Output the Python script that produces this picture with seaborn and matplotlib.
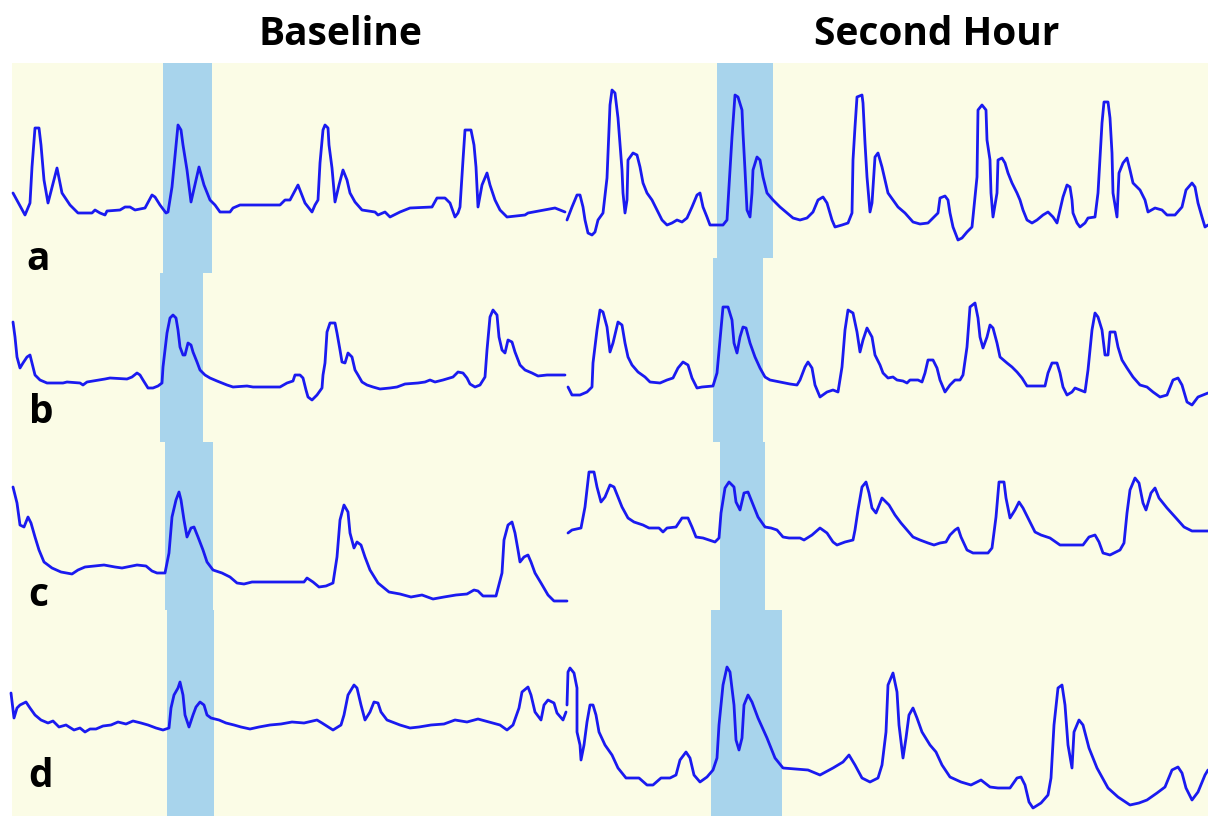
import pandas as pd
import matplotlib
matplotlib.use('Agg')
import matplotlib.pyplot as plt
from matplotlib.patches import Rectangle
import seaborn as sns

sns.set_style('white')
plt.rcParams['font.family'] = ['Open Sans', 'DejaVu Sans']

# pulse traces, (x, y) in picture pixels
a_base = [(13,193),(25,215),(30,203),(32,167),(35,128),(39,128),(41,145),(44,180),(48,203),(57,168),(62,193),(70,205),(78,213),(92,213),(95,210),(100,213),(105,215),(107,211),(120,210),(125,207),(130,207),(135,210),(145,208),(152,195),(155,197),(160,205),(166,213),(168,212),(172,187),(178,125),(181,130),(183,145),(187,170),(191,202),(199,167),(204,185),(210,200),(215,205),(220,212),(230,212),(233,208),(240,205),(280,205),(285,200),(290,200),(298,185),(305,203),(312,212),(315,205),(318,200),(320,163),(323,130),(325,125),(328,128),(329,145),(332,168),(335,202),(339,185),(343,170),(347,180),(350,193),(355,202),(362,210),(375,212),(378,215),(385,212),(390,217),(400,212),(410,208),(432,207),(437,198),(445,198),(450,203),(455,217),(458,213),(460,207),(463,160),(465,130),(471,130),(474,145),(476,167),(478,207),(482,185),(487,173),(490,185),(495,200),(500,210),(507,217),(525,215),(528,213),(555,208),(565,212)]

a_hour = [(567,220),(572,207),(577,195),(580,195),(583,207),(585,220),(588,233),(592,235),(595,232),(598,220),(603,213),(607,178),(610,105),(612,90),(615,93),(618,118),(622,170),(623,193),(625,213),(627,200),(628,160),(633,153),(637,155),(640,167),(643,183),(647,193),(652,200),(657,210),(662,220),(667,225),(672,223),(677,220),(682,222),(687,218),(692,207),(697,195),(700,193),(703,207),(707,217),(710,225),(723,225),(727,220),(728,203),(732,137),(735,95),(738,97),(742,110),(743,133),(745,170),(747,210),(750,217),(752,193),(753,170),(757,157),(760,160),(763,177),(767,193),(773,200),(780,207),(787,213),(793,218),(800,220),(807,218),(813,212),(818,200),(823,197),(827,203),(832,220),(835,227),(842,225),(848,223),(852,213),(853,160),(855,127),(857,97),(862,95),(863,103),(865,143),(867,177),(870,212),(872,203),(875,157),(878,153),(882,167),(885,180),(888,193),(893,200),(898,207),(905,213),(913,222),(920,224),(928,223),(933,218),(938,213),(940,198),(945,196),(948,200),(950,213),(953,227),(958,240),(962,238),(967,232),(972,227),(973,217),(977,177),(978,110),(982,105),(986,110),(987,140),(990,160),(991,193),(993,217),(997,193),(998,160),(1002,158),(1005,163),(1008,173),(1012,183),(1017,193),(1020,200),(1023,210),(1027,220),(1032,223),(1037,220),(1043,215),(1048,212),(1053,217),(1057,223),(1060,210),(1063,197),(1067,185),(1070,187),(1072,200),(1073,213),(1077,223),(1080,227),(1085,223),(1088,218),(1095,217),(1098,193),(1102,123),(1104,102),(1108,102),(1110,118),(1112,153),(1113,193),(1117,217),(1119,173),(1123,163),(1127,158),(1130,170),(1133,183),(1140,190),(1145,200),(1148,212),(1155,208),(1162,210),(1167,215),(1175,215),(1182,207),(1186,190),(1192,183),(1195,187),(1198,203),(1202,217),(1205,227),(1208,225)]

b_base = [(13,322),(15,337),(17,357),(20,368),(23,363),(27,357),(30,355),(32,363),(35,375),(40,380),(47,383),(63,383),(67,382),(80,383),(83,385),(87,382),(105,379),(110,378),(127,379),(132,377),(137,373),(140,375),(143,380),(148,388),(153,388),(158,386),(162,383),(163,367),(167,333),(170,318),(173,315),(176,318),(178,330),(180,347),(183,355),(185,355),(188,343),(191,345),(193,352),(197,362),(200,370),(205,375),(210,378),(217,381),(227,385),(233,387),(247,386),(253,387),(267,387),(280,387),(287,383),(293,381),(295,375),(300,375),(303,378),(306,390),(308,397),(312,400),(317,395),(322,388),(323,375),(325,363),(327,332),(330,323),(335,323),(337,333),(340,350),(342,362),(345,363),(348,353),(352,357),(355,370),(358,375),(362,382),(367,385),(373,387),(380,389),(390,388),(397,387),(405,384),(418,383),(425,382),(430,380),(435,382),(443,380),(453,377),(458,372),(463,373),(467,378),(470,384),(475,387),(480,385),(485,377),(487,350),(490,317),(493,310),(497,315),(499,337),(502,350),(505,353),(508,340),(512,342),(515,352),(520,365),(525,370),(532,373),(538,376),(547,375),(565,375)]

b_hour = [(568,387),(572,395),(580,395),(587,392),(592,387),(593,363),(597,330),(600,310),(603,312),(607,327),(610,352),(613,343),(618,322),(622,325),(625,343),(628,357),(632,365),(638,372),(645,377),(650,382),(660,383),(667,380),(673,378),(678,368),(683,362),(688,365),(692,378),(697,388),(702,387),(713,386),(717,373),(720,340),(723,307),(728,307),(732,320),(734,343),(737,353),(740,337),(743,327),(746,328),(750,343),(755,357),(760,368),(765,377),(770,380),(780,382),(790,384),(797,385),(800,380),(805,367),(808,362),(812,368),(815,385),(820,397),(827,392),(833,390),(838,392),(842,367),(845,330),(848,310),(853,313),(857,332),(860,352),(863,340),(867,328),(872,337),(875,355),(880,365),(883,373),(888,378),(893,377),(897,380),(903,381),(907,383),(910,380),(918,380),(922,382),(925,373),(928,360),(933,360),(937,368),(940,380),(945,392),(950,385),(955,380),(960,380),(963,375),(967,347),(970,307),(975,303),(978,318),(980,337),(983,348),(987,337),(990,325),(993,328),(997,343),(1000,357),(1007,363),(1012,367),(1017,372),(1022,378),(1027,386),(1045,386),(1048,373),(1052,363),(1057,363),(1060,373),(1063,387),(1067,395),(1072,392),(1075,388),(1080,390),(1085,392),(1088,370),(1092,330),(1095,313),(1098,317),(1102,330),(1105,355),(1108,355),(1110,332),(1115,332),(1118,347),(1122,360),(1127,368),(1133,377),(1140,385),(1147,387),(1153,392),(1160,397),(1167,395),(1173,380),(1178,378),(1182,385),(1187,402),(1192,405),(1198,397),(1203,395),(1208,393)]

c_base = [(13,487),(17,503),(20,525),(24,527),(28,517),(31,523),(35,537),(39,550),(44,562),(52,568),(61,572),(72,574),(78,570),(85,567),(104,565),(115,567),(122,568),(137,565),(146,566),(152,571),(157,573),(165,573),(169,553),(172,517),(176,500),(179,492),(181,500),(184,520),(187,537),(191,528),(194,527),(198,537),(203,550),(207,562),(213,570),(222,573),(230,577),(237,583),(244,584),(252,582),(304,582),(307,578),(313,582),(319,587),(326,586),(333,583),(337,557),(340,520),(344,505),(348,512),(350,533),(354,548),(357,542),(361,545),(365,557),(370,570),(378,583),(389,592),(400,594),(411,597),(422,595),(433,599),(444,597),(456,595),(467,594),(474,590),(478,591),(483,596),(496,596),(502,573),(504,540),(508,525),(512,522),(515,533),(518,550),(520,562),(524,557),(528,555),(531,562),(535,573),(541,583),(548,595),(554,601),(567,601)]

c_hour = [(568,533),(572,530),(581,528),(585,507),(589,472),(594,472),(597,487),(601,502),(605,497),(610,485),(614,487),(618,497),(622,507),(628,518),(634,522),(643,525),(649,528),(659,528),(663,532),(667,528),(676,527),(682,518),(688,518),(692,527),(696,537),(703,538),(709,540),(715,542),(719,538),(721,513),(725,488),(729,482),(734,487),(736,502),(740,510),(744,493),(748,492),(752,502),(758,517),(765,527),(771,528),(777,530),(783,537),(789,538),(800,538),(804,540),(812,535),(820,528),(827,533),(833,542),(837,545),(845,542),(853,540),(855,530),(858,510),(862,487),(866,482),(869,493),(872,508),(876,513),(882,498),(889,505),(895,515),(901,523),(907,530),(913,537),(920,540),(928,543),(934,545),(940,543),(946,542),(950,535),(955,530),(958,528),(961,537),(967,550),(973,553),(988,553),(992,548),(996,517),(999,482),(1004,482),(1006,498),(1010,518),(1015,510),(1019,502),(1023,508),(1029,520),(1035,532),(1041,535),(1050,538),(1060,545),(1083,545),(1089,537),(1095,535),(1099,542),(1103,553),(1110,555),(1120,550),(1124,543),(1127,513),(1130,490),(1135,478),(1139,483),(1143,503),(1146,510),(1151,493),(1155,488),(1159,498),(1167,508),(1176,518),(1184,527),(1192,531),(1208,531)]

d_base = [(11,693),(14,718),(17,708),(20,705),(26,702),(30,708),(35,715),(41,720),(48,723),(53,721),(59,727),(66,725),(74,730),(80,728),(85,732),(90,729),(96,729),(103,726),(111,725),(118,722),(126,724),(133,721),(141,723),(148,725),(156,728),(163,730),(169,728),(171,708),(174,695),(178,688),(180,682),(183,695),(185,715),(189,727),(193,715),(196,707),(200,702),(204,705),(207,715),(211,718),(219,720),(226,723),(234,725),(241,727),(250,729),(259,727),(270,725),(281,724),(292,722),(304,723),(317,720),(322,723),(333,730),(341,725),(344,715),(348,695),(354,685),(357,688),(361,705),(365,720),(370,712),(374,702),(378,703),(381,712),(387,720),(400,725),(410,728),(419,727),(431,725),(444,724),(455,720),(467,722),(478,719),(489,722),(500,725),(507,730),(513,725),(519,708),(522,692),(528,687),(531,695),(535,712),(541,720),(544,705),(548,700),(554,703),(557,713),(563,720),(566,712)]

d_hour = [(567,705),(568,672),(570,668),(574,673),(577,688),(577,732),(580,745),(581,760),(584,745),(587,722),(590,705),(593,705),(596,715),(599,732),(605,745),(612,755),(618,768),(626,778),(639,778),(647,785),(653,785),(661,778),(670,778),(676,775),(680,760),(686,752),(690,758),(694,775),(700,782),(707,777),(713,770),(717,758),(719,725),(723,685),(727,667),(730,672),(734,705),(736,740),(739,750),(742,738),(744,705),(748,695),(752,702),(758,718),(767,738),(775,758),(783,768),(808,770),(820,775),(833,768),(843,762),(849,755),(855,765),(862,778),(870,782),(878,778),(882,765),(886,732),(888,685),(893,673),(897,692),(899,725),(903,758),(906,738),(909,715),(913,708),(917,718),(922,732),(930,745),(936,752),(942,765),(950,777),(961,782),(971,785),(981,780),(990,787),(998,788),(1010,788),(1017,778),(1021,777),(1025,785),(1029,802),(1033,808),(1041,803),(1048,795),(1051,778),(1054,725),(1058,688),(1062,685),(1065,705),(1068,745),(1072,768),(1074,732),(1079,720),(1083,725),(1089,748),(1097,768),(1108,788),(1118,797),(1130,805),(1139,803),(1147,800),(1157,793),(1165,787),(1172,770),(1178,767),(1182,773),(1186,788),(1192,800),(1198,792),(1205,775),(1208,770)]

# highlighted beat, one band per row and column
band_x0 = [163, 160, 165, 167, 717, 713, 720, 711]
band_x1 = [212, 203, 213, 214, 773, 763, 765, 782]
band_y0 = [63, 273, 442, 610, 63, 258, 442, 610]
band_y1 = [273, 442, 610, 816, 258, 442, 610, 816]

col_titles = ['Baseline', 'Second Hour']
row_labels = ['a', 'b', 'c', 'd']


def main():
    traces = {'a_base': a_base, 'a_hour': a_hour, 'b_base': b_base, 'b_hour': b_hour,
              'c_base': c_base, 'c_hour': c_hour, 'd_base': d_base, 'd_hour': d_hour}
    frames = []
    for name, pts in traces.items():
        df = pd.DataFrame(pts, columns=['x', 'y'])
        df['trace'] = name
        frames.append(df)
    df = pd.concat(frames, ignore_index=True)

    fig = plt.figure(figsize=(12.08, 8.16), dpi=100)
    ax = fig.add_axes([0, 0, 1, 1])

    # pale yellow recording area
    ax.add_patch(Rectangle((12, 63), 1196, 753, facecolor='#FBFCE6', edgecolor='none', zorder=0))
    for x0, x1, y0, y1 in zip(band_x0, band_x1, band_y0, band_y1):
        ax.fill_between([x0, x1], [y0, y0], [y1, y1], color='#A8D4EC', lw=0, zorder=1)

    sns.lineplot(data=df, x='x', y='y', units='trace', estimator=None, sort=False,
                 color='#1A1AF0', lw=2.0, ax=ax, zorder=3, solid_joinstyle='round')

    ax.set_xlim(0, 1208)
    ax.set_ylim(816, 0)
    ax.axis('off')

    for t, cx in zip(col_titles, [340, 937]):
        ax.text(cx, 45, t, ha='center', va='baseline', fontsize=28, fontweight='bold', color='black')
    for lab, lx, ly in zip(row_labels, [38, 41, 38, 41], [270, 423, 606, 787]):
        ax.text(lx, ly, lab, ha='center', va='baseline', fontsize=28, fontweight='bold', color='black')

    fig.savefig('out.png', dpi=100)
    plt.close(fig)


if __name__ == '__main__':
    main()
